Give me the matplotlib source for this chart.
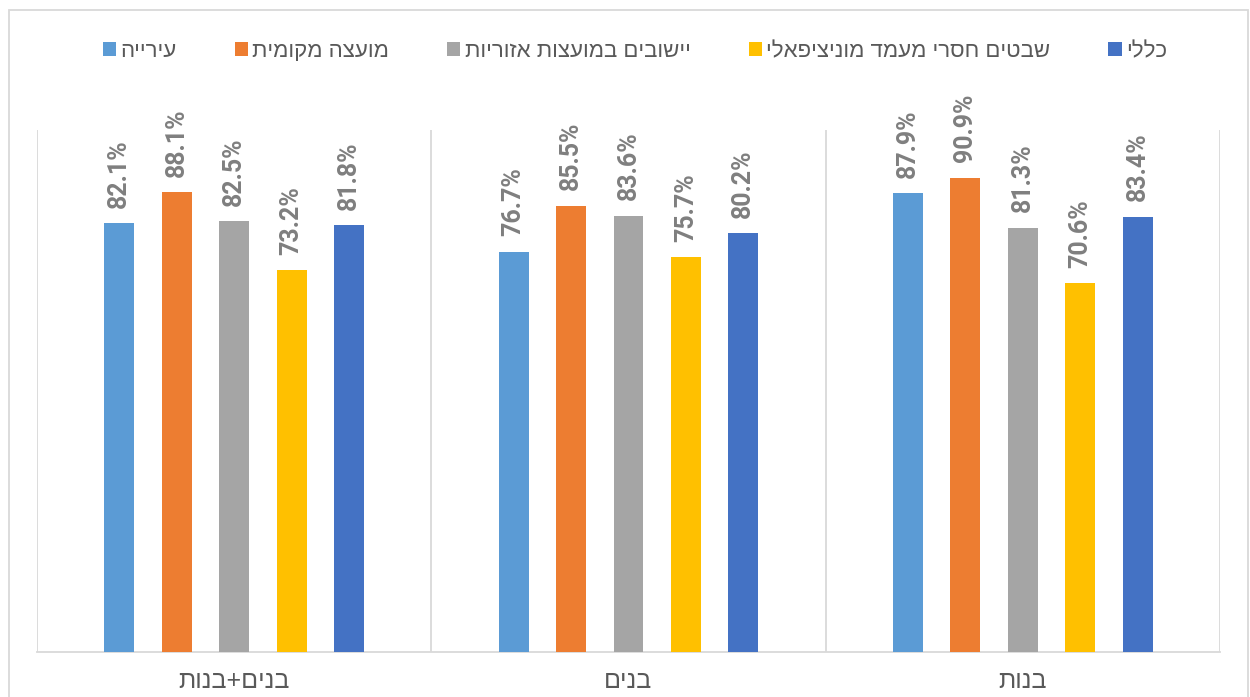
import matplotlib
matplotlib.use("Agg")
import matplotlib.pyplot as plt
from matplotlib.patches import Rectangle
import numpy as np

# Data (groups in left-to-right display order)
groups = ["בנים+בנות", "בנים", "בנות"]
series = ["עירייה", "מועצה מקומית", "יישובים במועצות אזוריות",
          "שבטים חסרי מעמד מוניציפאלי", "כללי"]
values = [
    [82.1, 76.7, 87.9],   # עירייה
    [88.1, 85.5, 90.9],   # מועצה מקומית
    [82.5, 83.6, 81.3],   # יישובים במועצות אזוריות
    [73.2, 75.7, 70.6],   # שבטים חסרי מעמד מוניציפאלי
    [81.8, 80.2, 83.4],   # כללי
]
colors = ["#5B9BD5", "#ED7D31", "#A5A5A5", "#FFC000", "#4472C4"]


def rtl(s):
    # matplotlib draws left-to-right; flip Hebrew into visual order
    return s[::-1]


heb_font = ["Liberation Sans", "DejaVu Sans"]
plt.rcParams["font.family"] = heb_font

fig = plt.figure(figsize=(12.5, 6.97), dpi=100)
ax = fig.add_axes([37 / 1250, 45 / 697, 1183 / 1250, 522 / 697])

x = np.arange(len(groups))
step = 0.1456
width = 0.076
for i, (name, vals, c) in enumerate(zip(series, values, colors)):
    pos = x + (i - 2) * step
    bars = ax.bar(pos, vals, width=width, color=c, label=rtl(name), zorder=3)
    for b, v in zip(bars, vals):
        ax.annotate(f"{v:.1f}%", (b.get_x() + b.get_width() / 2, v),
                    xytext=(0, 11), textcoords="offset points",
                    rotation=90, ha="center", va="bottom",
                    fontsize=18, fontweight="bold", color="#7F7F7F",
                    family=["Roboto", "DejaVu Sans"])

ax.set_xlim(-0.5, len(groups) - 0.5)
ax.set_ylim(0, 100)
ax.set_yticks([])
ax.set_xticks(x)
ax.set_xticklabels([rtl(g) for g in groups], fontsize=18, color="#595959")
ax.tick_params(axis="x", length=0, pad=12)

# category separators
ax.set_xticks(np.arange(-0.5, len(groups)), minor=True)
ax.tick_params(axis="x", which="minor", length=0)
ax.grid(True, axis="x", which="minor", color="#D9D9D9", linewidth=1.3)
for s in ["top", "left", "right"]:
    ax.spines[s].set_visible(False)
ax.spines["bottom"].set_color("#D9D9D9")
ax.spines["bottom"].set_linewidth(1.3)

leg = fig.legend(loc="upper center", bbox_to_anchor=(0.508, 0.97), ncol=5,
                 frameon=False, fontsize=16, handlelength=0.6, handleheight=0.6,
                 handletextpad=0.2, columnspacing=2.6)
for t in leg.get_texts():
    t.set_color("#595959")

# chart border
fig.patches.append(Rectangle((9 / 1250, -0.05), 1239 / 1250, 0.05 + 687 / 697,
                             transform=fig.transFigure, fill=False,
                             edgecolor="#D9D9D9", linewidth=1.3))

fig.savefig("out.png", dpi=100)
